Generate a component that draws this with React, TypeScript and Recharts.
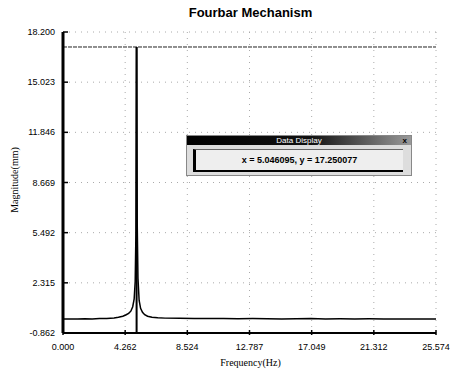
import { LineChart, Line, XAxis, YAxis, CartesianGrid, ReferenceLine } from 'recharts';

const freq = [0, 0.5, 1, 1.5, 2, 2.5, 3, 3.5, 3.8, 4.1, 4.3, 4.5, 4.65, 4.78, 4.88, 4.95, 5.0, 5.046, 5.09, 5.14, 5.22, 5.32, 5.45, 5.6, 5.8, 6.1, 6.5, 7, 8, 9, 10, 11, 12, 13, 14, 15, 16, 17, 18, 19, 20, 21, 22, 23, 24, 25, 25.574];
const magnitude = [0.02, 0.03, 0.02, 0.04, 0.03, 0.05, 0.06, 0.09, 0.13, 0.2, 0.28, 0.38, 0.52, 0.8, 1.3, 2.4, 5.5, 17.25, 6.0, 2.6, 1.2, 0.7, 0.45, 0.3, 0.2, 0.13, 0.1, 0.08, 0.07, 0.06, 0.05, 0.05, 0.04, 0.05, 0.04, 0.03, 0.04, 0.05, 0.03, 0.04, 0.03, 0.04, 0.03, 0.02, 0.03, 0.03, 0.02];

const xTicks = [0, 4.262, 8.524, 12.787, 17.049, 21.312, 25.574];
const yTicks = [-0.862, 2.315, 5.492, 8.669, 11.846, 15.023, 18.2];

const cursorX = 5.046095;
const cursorY = 17.250077;

const data = freq.map((f, i) => ({ f, m: magnitude[i] }));

const XTick = (props: any) => {
  const { x, y, payload } = props;
  return (
    <g>
      <line x1={x} y1={y} x2={x} y2={y - 5} stroke="#000" strokeWidth={1.5} />
      <text x={x} y={y + 15} textAnchor="middle" fontSize={9} fontFamily="Arial, Liberation Sans" fill="#000">
        {payload.value.toFixed(3)}
      </text>
    </g>
  );
};

const YTick = (props: any) => {
  const { x, y, payload } = props;
  return (
    <g>
      <line x1={63} y1={y} x2={68} y2={y} stroke="#000" strokeWidth={1.5} />
      <text x={x - 6} y={y + 3} textAnchor="end" fontSize={9} fontFamily="Arial, Liberation Sans" fill="#000">
        {payload.value.toFixed(3)}
      </text>
    </g>
  );
};

export default function App() {
  return (
    <div style={{ position: 'absolute', left: 0, top: 0, width: 457, height: 372, background: '#fff' }}>
      <div style={{ position: 'absolute', left: 0, width: 457, top: 5, textAlign: 'center', paddingLeft: 44, boxSizing: 'border-box', fontFamily: 'Arial, Liberation Sans', fontWeight: 'bold', fontSize: 13 }}>
        Fourbar Mechanism
      </div>
      <LineChart width={457} height={372} data={data} margin={{ top: 32, right: 21, left: 0, bottom: 0 }}>
        <CartesianGrid stroke="#aaa" strokeDasharray="1 5" />
        <XAxis
          dataKey="f"
          type="number"
          domain={[0, 25.574]}
          ticks={xTicks}
          tick={<XTick />}
          tickLine={false}
          tickSize={0}
          height={39}
          axisLine={{ stroke: '#000', strokeWidth: 2 }}
          interval={0}
        />
        <YAxis
          type="number"
          domain={[-0.862, 18.2]}
          ticks={yTicks}
          tick={<YTick />}
          tickLine={false}
          tickSize={0}
          width={63}
          axisLine={{ stroke: '#000', strokeWidth: 3 }}
          interval={0}
        />
        <ReferenceLine y={cursorY} stroke="#222" strokeWidth={1} strokeDasharray="4 1" />
        <ReferenceLine
          segment={[{ x: cursorX, y: -0.862 }, { x: cursorX, y: cursorY }]}
          stroke="#000"
          strokeWidth={2}
        />
        <Line dataKey="m" stroke="#000" strokeWidth={1.5} dot={false} isAnimationActive={false} type="linear" />
      </LineChart>
      <div style={{ position: 'absolute', left: 6, top: 180, transform: 'translate(-50%, -50%) rotate(-90deg)', transformOrigin: 'center', marginLeft: 8, fontFamily: 'Liberation Serif, Times New Roman, serif', fontSize: 10, whiteSpace: 'nowrap' }}>
        Magnitude(mm)
      </div>
      <div style={{ position: 'absolute', left: 0, width: 457, top: 357, textAlign: 'center', paddingLeft: 44, boxSizing: 'border-box', fontFamily: 'Liberation Serif, Times New Roman, serif', fontSize: 10 }}>
        Frequency(Hz)
      </div>
      <div style={{ position: 'absolute', left: 186, top: 135, width: 226, height: 41, border: '1px solid #888', background: '#ddd', boxSizing: 'border-box' }}>
        <div style={{ height: 9, background: 'linear-gradient(to right, #000 0%, #111 55%, #999 100%)', color: '#fff', fontFamily: 'Arial, Liberation Sans', fontSize: 8, lineHeight: '9px', textAlign: 'center', position: 'relative' }}>
          Data Display
          <span style={{ position: 'absolute', right: 4, top: 0, color: '#000', fontWeight: 'bold' }}>x</span>
        </div>
        <div style={{ margin: '4px 8px 0 6px', height: 20, borderLeft: '3px solid #000', borderBottom: '2px solid #000', borderTop: '1px solid #666', background: '#eee', fontFamily: 'Arial, Liberation Sans', fontSize: 9, fontWeight: 'bold', lineHeight: '20px', textAlign: 'center' }}>
          x = {cursorX.toFixed(6)}, y = {cursorY.toFixed(6)}
        </div>
      </div>
    </div>
  );
}
